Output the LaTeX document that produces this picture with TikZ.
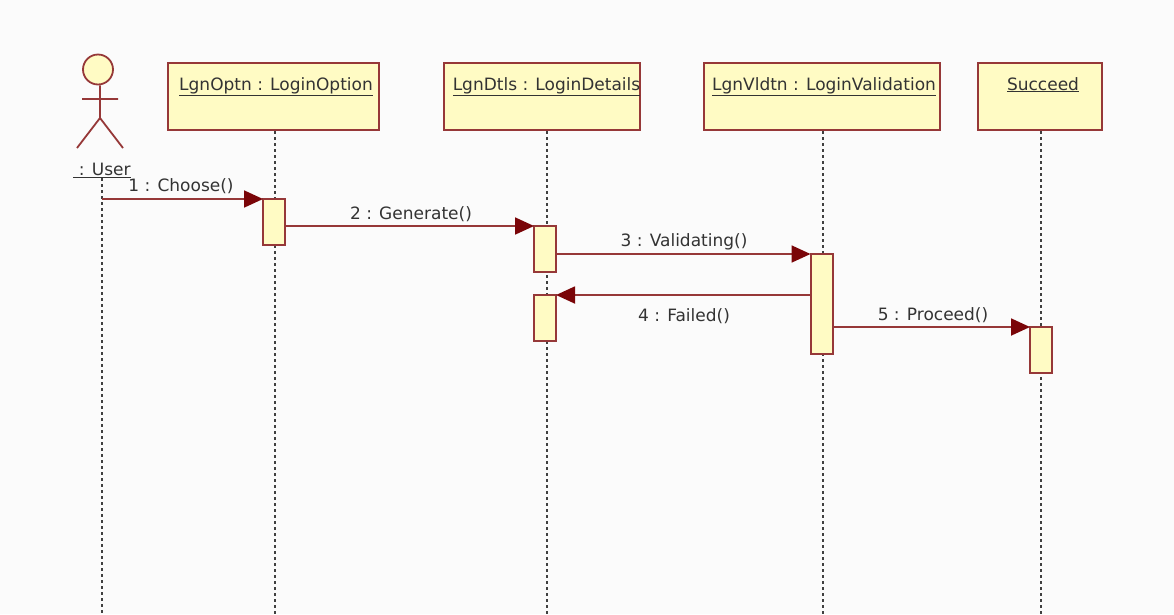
\documentclass[tikz,border=0pt]{standalone}
\usepackage{fontspec}
\setmainfont{DejaVu Sans}
\usetikzlibrary{arrows.meta}
\definecolor{umlline}{HTML}{963838}
\definecolor{umlfill}{HTML}{FFFBC4}
\definecolor{umlhead}{HTML}{7A0508}
\definecolor{umltext}{HTML}{333333}
\definecolor{paper}{HTML}{FBFBFB}
\tikzset{
    RA1/.style ={rectangle,minimum height = 67pt, inner xsep = 0pt, inner ysep = 7pt, text height = 20pt, text depth = 33pt, draw=umlline, line width = 2pt, fill=umlfill, text=umltext, font=\fontsize{17}{20}\selectfont},
    RA2/.style ={rectangle,minimum width = 22pt, inner sep = 0pt, outer sep = 0pt, draw=umlline, line width = 2pt, fill=umlfill},
    CC1/.style ={circle,minimum width = 30pt, inner sep = 0pt, draw=umlline, line width = 1.8pt, fill=umlfill},
    SU/.style ={anchor=base,inner sep = 0pt,text=umltext,font=\fontsize{17}{20}\selectfont},
    LL/.style ={line width = 1.5pt, dash pattern=on 2.5pt off 3.5pt, black!75},
    ME/.style ={line width = 1.8pt, umlline, -{Triangle[length=19pt,width=17pt,color=umlhead]}}}
\begin{document}
\begin{tikzpicture}[x=1pt,y=-1pt]
    \fill[paper] (0,0) rectangle (1174,614);
    \useasboundingbox (0,0) rectangle (1174,614);
    % life lines
    \coordinate (UserTop) at (102,178);
    \coordinate (UserEnd) at (102,614);
    \coordinate (OptnEnd) at (275,614);
    \coordinate (DtlsEnd) at (547,614);
    \coordinate (VldtnEnd) at (823,614);
    \coordinate (SuccEnd) at (1041,614);
    \node[RA1,minimum width = 211pt] (Optn) at (273.5,96.5) {\hspace*{5pt}\underline{LgnOptn : LoginOption}};
    \node[RA1,minimum width = 196pt] (Dtls) at (542,96.5) {\hspace*{9pt}\underline{LgnDtls : LoginDetails}};
    \node[RA1,minimum width = 236pt] (Vldtn) at (822,96.5) {\hspace*{4pt}\underline{LgnVldtn : LoginValidation}};
    \node[RA1,minimum width = 124pt] (Succ) at (1040,96.5) {\hspace*{6pt}\underline{Succeed}};
    \draw[LL] (UserTop) -- (UserEnd);
    \draw[LL] (Optn.south -| OptnEnd) -- (OptnEnd);
    \draw[LL] (Dtls.south -| DtlsEnd) -- (DtlsEnd);
    \draw[LL] (Vldtn.south -| VldtnEnd) -- (VldtnEnd);
    \draw[LL] (Succ.south -| SuccEnd) -- (SuccEnd);
    % actor
    \node[CC1] (Head) at (98,69.5) {};
    \coordinate (Hip) at (100,118);
    \coordinate (ArmL) at (82,99);
    \coordinate (ArmR) at (118,99);
    \coordinate (LegL) at (77,148);
    \coordinate (LegR) at (123,148);
    \draw[umlline,line width = 1.8pt] (Head.south -| Hip) -- (Hip) (ArmL) -- (ArmR) (LegL) -- (Hip) -- (LegR);
    \node[SU] (User) at (102,175.5) {\underline{\,\,: User}};
    % activations
    \node[RA2,minimum height = 46pt] (Act1) at (274,222) {};
    \node[RA2,minimum height = 46pt] (Act2) at (545,249) {};
    \node[RA2,minimum height = 46pt] (Act3) at (545,318) {};
    \node[RA2,minimum height = 100pt] (Act4) at (821.5,304) {};
    \node[RA2,minimum height = 46pt] (Act5) at (1041,350) {};
    % messages
    \draw[ME] (UserTop |- Act1.north) -- (Act1.north west);
    \draw[ME] (Act1.east |- Act2.north) -- (Act2.north west);
    \draw[ME] (Act2.east |- Act4.north) -- (Act4.north west);
    \draw[ME] (Act4.west |- Act3.north) -- (Act3.north east);
    \draw[ME] (Act4.east |- Act5.north) -- (Act5.north west);
    \node[SU] (Msg1) at (181,191) {1 : Choose()};
    \node[SU] (Msg2) at (411,219) {2 : Generate()};
    \node[SU] (Msg3) at (684,246) {3 : Validating()};
    \node[SU] (Msg4) at (684,321) {4 : Failed()};
    \node[SU] (Msg5) at (933,320) {5 : Proceed()};
\end{tikzpicture}
\end{document}
